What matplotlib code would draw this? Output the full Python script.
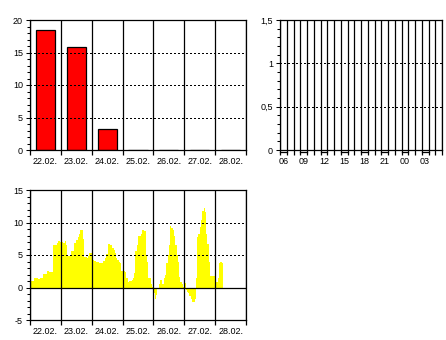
import numpy as np
import matplotlib
matplotlib.use("Agg")
import matplotlib.pyplot as plt
from matplotlib.ticker import MultipleLocator, FixedLocator, NullFormatter

plt.rcParams['font.family'] = ['Liberation Sans', 'DejaVu Sans']

# daily totals (top left)
days = ['22.02.', '23.02.', '24.02.', '25.02.', '26.02.', '27.02.', '28.02.']
day_totals = [18.4, 15.8, 3.3, 0, 0, 0, 0]

# hourly values for the last 24 h (top right)
hours = ['06', '07', '08', '09', '10', '11', '12', '13', '14', '15', '16', '17',
         '18', '19', '20', '21', '22', '23', '00', '01', '02', '03', '04', '05']
hour_values = [0] * 24

# hourly values over the week (bottom)
d1 = [1.05, 1.05, 1.05, 1.45, 1.45, 1.45, 1.25, 1.25, 1.45, 1.45, 2.1, 2.1,
      2.1, 2.5, 2.5, 2.45, 2.4, 2.45, 6.5, 6.6, 6.6, 6.9, 7.15, 7.05]
d2 = [7.0, 6.95, 6.8, 7.15, 6.5, 4.85, 4.85, 4.85, 5.6, 5.6, 6.8, 6.8,
      7.3, 7.8, 8.2, 8.8, 8.85, 7.4, 4.75, 4.65, 4.6, 4.85, 5.3, 5.35]
d3 = [5.1, 4.2, 4.05, 4.0, 3.9, 3.85, 3.8, 3.8, 3.8, 4.1, 4.5, 5.1,
      5.1, 6.7, 6.5, 6.5, 6.1, 5.8, 5.3, 4.5, 4.2, 4.0, 3.8, 2.6]
d4 = [2.5, 2.5, 2.4, 1.5, 0.9, 0.95, 1.0, 1.2, 1.5, 2.2, 5.6, 6.5,
      7.9, 7.9, 8.2, 8.9, 8.8, 8.7, 5.0, 4.0, 1.5, 1.5, 0.6, 0.05]
d5 = [-0.9, -1.7, -1.15, -0.2, 0.6, 1.15, 1.1, 0.6, 1.5, 2.0, 3.7, 5.0,
      6.5, 9.45, 9.2, 8.9, 8.0, 6.5, 5.0, 4.0, 1.6, 0.8, 0.5, 0.1]
d6 = [0.7, -0.4, -0.7, -0.9, -1.3, -1.8, -2.3, -2.2, -1.7, 1.4, 7.8, 8.3,
      9.3, 10.4, 11.7, 12.2, 11.6, 8.3, 6.7, 4.0, 1.8, 1.8, 1.8, 1.8]
d7 = [1.0, 0.8, 1.4, 3.8, 3.9, 3.7]
week_values = d1 + d2 + d3 + d4 + d5 + d6 + d7

W, H = 446, 340
fig = plt.figure(figsize=(W / 100, H / 100), dpi=100)
ax1 = fig.add_axes([30 / W, 1 - 150 / H, 216 / W, 130 / H])
ax2 = fig.add_axes([280 / W, 1 - 150 / H, 162 / W, 130 / H])
ax3 = fig.add_axes([30 / W, 1 - 320 / H, 216 / W, 130 / H])

LW = 0.9
dotted = (0, (1, 2))


def style(ax, n, labels, label_pos, ymin, ymax, ystep, yminor, ygrid, yfmt):
    for s in ax.spines.values():
        s.set_linewidth(LW)
    ax.set_xlim(0, n)
    ax.set_ylim(ymin, ymax)
    ax.xaxis.set_major_locator(FixedLocator(np.arange(n + 1)))
    ax.xaxis.set_major_formatter(NullFormatter())
    ax.xaxis.set_minor_locator(FixedLocator(label_pos))
    ax.set_xticklabels(labels, minor=True)
    ax.tick_params(axis='x', which='major', length=3.5, width=LW, direction='out')
    ax.tick_params(axis='x', which='minor', length=0, pad=5, labelsize=6.5)
    ax.grid(axis='x', which='major', color='black', lw=LW, ls='-')
    ax.yaxis.set_major_locator(MultipleLocator(ystep))
    ax.yaxis.set_minor_locator(MultipleLocator(yminor))
    ax.yaxis.set_major_formatter(plt.FuncFormatter(yfmt))
    ax.tick_params(axis='y', which='major', length=3, width=0.75, pad=2, labelsize=6.5)
    ax.tick_params(axis='y', which='minor', length=2, width=0.75)
    for y in ygrid:
        ax.axhline(y, color='black', lw=0.75, ls=dotted, zorder=3, antialiased=False)
    ax.set_axisbelow(False)


def fmt_int(v, pos):
    return f'{v:g}'


def fmt_comma(v, pos):
    return f'{v:g}'.replace('.', ',')


# top left: daily bars
style(ax1, 7, days, np.arange(7) + 0.5, 0, 20, 5, 1, [5, 10, 15], fmt_int)
ax1.bar(np.arange(7) + 0.5, day_totals, width=0.62, color='#ff0000',
        edgecolor='black', lw=LW, zorder=2)

# top right: last 24 hours
hour_idx = list(range(0, 24, 3))
style(ax2, 24, [hours[i] for i in hour_idx], np.array(hour_idx) + 0.5,
      0, 1.5, 0.5, 0.1, [0.5, 1.0], fmt_comma)
ax2.bar(np.arange(24) + 0.5, hour_values, width=0.9, color='#ff0000', lw=0, zorder=2)
for i in hour_idx:
    ax2.plot([i, i + 1], [-0.018, -0.018], color='black', lw=LW,
             transform=ax2.get_xaxis_transform(), clip_on=False)

# bottom: hourly values over the week
style(ax3, 7, days, np.arange(7) + 0.5, -5, 15, 5, 1, [5, 10], fmt_int)
x = np.arange(len(week_values)) / 24
ax3.bar(x, week_values, width=1 / 24, align='edge', color='#ffff00', lw=0, zorder=1)
ax3.axhline(0, color='black', lw=LW, zorder=3)

fig.savefig('out.png', dpi=100)
